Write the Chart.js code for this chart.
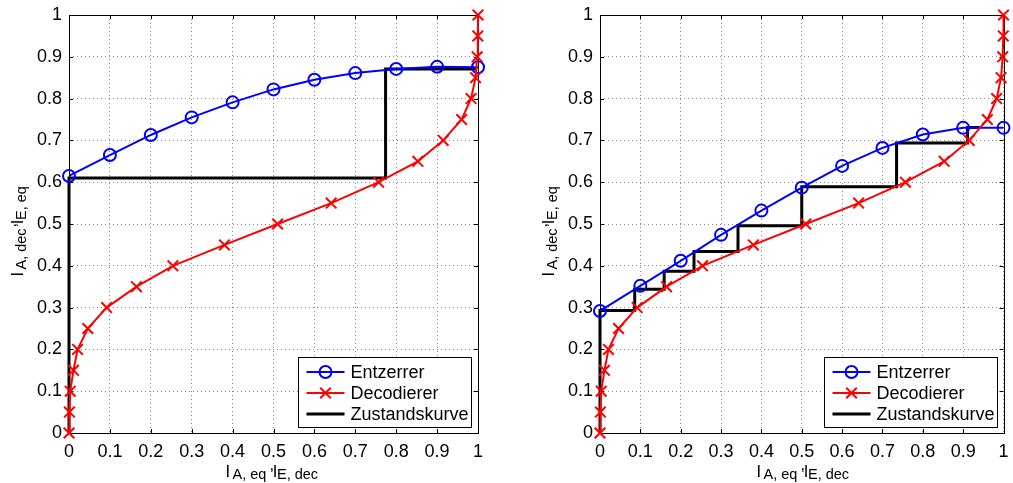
<!DOCTYPE html>
<html>
<head>
<meta charset="utf-8">
<script src="https://cdn.jsdelivr.net/npm/chart.js@4/dist/chart.umd.min.js"></script>
<style>
  body { margin: 0; background: #fff; }
  canvas { position: absolute; top: 0; }
</style>
</head>
<body>
<canvas id="links" width="506" height="483" style="left:0"></canvas>
<canvas id="rechts" width="507" height="483" style="left:506px"></canvas>
<script>
// --- Daten ---
const xWerte = [0, 0.1, 0.2, 0.3, 0.4, 0.5, 0.6, 0.7, 0.8, 0.9, 1];
const tickLabels = ['0', '0.1', '0.2', '0.3', '0.4', '0.5', '0.6', '0.7', '0.8', '0.9', '1'];

// Entzerrer-Kennlinien (links / rechts)
const entzerrerLinks = [0.615, 0.665, 0.713, 0.755, 0.791, 0.822, 0.845, 0.861, 0.871, 0.876, 0.875];
const entzerrerRechts = [0.292, 0.352, 0.412, 0.474, 0.532, 0.587, 0.639, 0.682, 0.714, 0.730, 0.730];

// Decodierer-Kennlinie (gleich in beiden Bildern), y = I_A,dec
const decY = [0, 0.05, 0.1, 0.15, 0.2, 0.25, 0.3, 0.35, 0.4, 0.45, 0.5,
              0.55, 0.6, 0.65, 0.7, 0.75, 0.8, 0.85, 0.9, 0.95, 1];
const decX = [0, 0.001, 0.003, 0.011, 0.021, 0.046, 0.092, 0.165, 0.254, 0.380, 0.510,
              0.641, 0.757, 0.853, 0.915, 0.960, 0.983, 0.994, 0.998, 0.9995, 1];

// Zustandskurven
const stufeLinksX = [0, 0, 0.774, 0.774, 0.998];
const stufeLinksY = [0, 0.61, 0.61, 0.871, 0.871];
const stufeRechtsX = [0, 0, 0.086, 0.086, 0.159, 0.159, 0.233, 0.233, 0.342, 0.342, 0.5, 0.5, 0.735, 0.735, 0.911, 0.911, 0.941];
const stufeRechtsY = [0, 0.293, 0.293, 0.344, 0.344, 0.387, 0.387, 0.434, 0.434, 0.496, 0.496, 0.589, 0.589, 0.694, 0.694, 0.731, 0.731];

const legendNamen = ['Entzerrer', 'Decodierer', 'Zustandskurve'];

const FONT = '"Liberation Sans", Arial, Helvetica, sans-serif';
const BLAU = '#0000ff', ROT = '#ff0000', SCHWARZ = '#000000';

function punkte(xs, ys) {
    return xs.map((x, i) => ({ x: x, y: ys[i] }));
}

// Kreis und x-Marker wie in MATLAB
function markerKreis(ctx, x, y) {
    ctx.beginPath();
    ctx.arc(x, y, 6, 0, Math.PI * 2);
    ctx.stroke();
}
function markerKreuz(ctx, x, y) {
    const d = 5.3;
    ctx.beginPath();
    ctx.moveTo(x - d, y - d); ctx.lineTo(x + d, y + d);
    ctx.moveTo(x - d, y + d); ctx.lineTo(x + d, y - d);
    ctx.stroke();
}

// TeX-artiger Titel: [text, art, versatz]; art 0 = normal, 1 = tief, 2 = Komma
function zeichneTitel(ctx, teile) {
    teile.forEach(([txt, art, dx]) => {
        ctx.font = (art === 1 ? '14.5px ' : '16.5px ') + FONT;
        const dy = art === 1 ? 2.6 : (art === 2 ? -7 : 0);
        ctx.fillText(txt, dx, dy);
    });
}

const matlabPlugin = {
    id: 'matlab',
    beforeDatasetsDraw(chart) {
        const ctx = chart.ctx;
        const a = chart.chartArea;
        const xs = chart.scales.x, ys = chart.scales.y;
        ctx.save();
        ctx.strokeStyle = SCHWARZ;
        ctx.lineWidth = 1;
        // Tick-Striche nach innen, auf allen vier Seiten
        ctx.beginPath();
        xWerte.forEach(v => {
            const px = Math.round(xs.getPixelForValue(v)) + 0.5;
            ctx.moveTo(px, a.bottom); ctx.lineTo(px, a.bottom - 4);
            ctx.moveTo(px, a.top); ctx.lineTo(px, a.top + 4);
            const py = Math.round(ys.getPixelForValue(v)) + 0.5;
            ctx.moveTo(a.left, py); ctx.lineTo(a.left + 4, py);
            ctx.moveTo(a.right, py); ctx.lineTo(a.right - 4, py);
        });
        ctx.stroke();
        ctx.strokeRect(Math.round(a.left) + 0.5, Math.round(a.top) + 0.5,
                       Math.round(a.right - a.left), Math.round(a.bottom - a.top));
        ctx.restore();
    },
    afterDraw(chart) {
        const ctx = chart.ctx;
        const a = chart.chartArea;
        ctx.save();

        // Legende unten rechts
        const bw = 173, bh = 70;
        const bx = Math.round(a.right - 7 - bw) + 0.5, by = Math.round(a.bottom - 6 - bh) + 0.5;
        ctx.fillStyle = '#fff';
        ctx.fillRect(bx, by, bw, bh);
        ctx.strokeStyle = SCHWARZ;
        ctx.lineWidth = 1;
        ctx.strokeRect(bx, by, bw, bh);
        const farben = [BLAU, ROT, SCHWARZ];
        const zeilen = [14.5, 35.5, 56.5];
        zeilen.forEach((dy, i) => {
            const y = by + dy;
            ctx.strokeStyle = farben[i];
            ctx.lineWidth = i === 2 ? 3 : 2;
            ctx.beginPath();
            ctx.moveTo(bx + 8, y); ctx.lineTo(bx + 46, y);
            ctx.stroke();
            ctx.lineWidth = 2;
            if (i === 0) markerKreis(ctx, bx + 27, y);
            if (i === 1) markerKreuz(ctx, bx + 27, y);
            ctx.fillStyle = SCHWARZ;
            ctx.font = '18px ' + FONT;
            ctx.textBaseline = 'middle';
            ctx.textAlign = 'left';
            ctx.fillText(legendNamen[i], bx + 52, y + 1);
        });

        // Achsenbeschriftungen
        ctx.fillStyle = SCHWARZ;
        ctx.textBaseline = 'alphabetic';
        ctx.textAlign = 'left';
        ctx.save();
        ctx.translate(a.left + 156.5, a.bottom + 43.5);
        zeichneTitel(ctx, [['I', 0, 0], ['A, eq', 1, 7], [',', 2, 44], ['I', 0, 47.3], ['E, dec', 1, 51.5]]);
        ctx.restore();

        ctx.save();
        ctx.translate(a.left - 46, (a.top + a.bottom) / 2 + 52.5);
        ctx.rotate(-Math.PI / 2);
        zeichneTitel(ctx, [['I', 0, 0], ['A, dec', 1, 7], [',', 2, 49], ['I', 0, 52.3], ['E, eq', 1, 56.5]]);
        ctx.restore();

        ctx.restore();
    }
};

function achse(breite, hoehe) {
    return {
        type: 'linear',
        min: 0,
        max: 1,
        afterFit: s => {
            if (breite) s.width = breite;
            if (hoehe) s.height = hoehe;
            // Ränder nur über layout.padding steuern
            s.paddingTop = 0; s.paddingBottom = 0;
            s.paddingLeft = 0; s.paddingRight = 0;
        },
        grid: {
            color: '#8c8c8c',
            lineWidth: 1,
            drawTicks: false
        },
        border: { display: false, dash: [1, 3] },
        ticks: {
            stepSize: 0.1,
            padding: breite ? 7 : 8,
            color: SCHWARZ,
            font: { family: FONT, size: 18 },
            callback: v => tickLabels[Math.round(v * 10)]
        }
    };
}

function baueDiagramm(id, entzerrer, stufeX, stufeY, yBreite, rechtsPad) {
    new Chart(document.getElementById(id), {
        type: 'scatter',
        data: {
            datasets: [
                {
                    label: legendNamen[0],
                    data: punkte(xWerte, entzerrer),
                    showLine: true,
                    borderColor: BLAU,
                    borderWidth: 2,
                    pointStyle: 'circle',
                    pointRadius: 6,
                    pointBorderWidth: 2,
                    pointBackgroundColor: 'rgba(0,0,0,0)',
                    pointBorderColor: BLAU,
                    clip: false,
                    order: 1
                },
                {
                    label: legendNamen[1],
                    data: punkte(decX, decY),
                    showLine: true,
                    borderColor: ROT,
                    borderWidth: 2,
                    pointStyle: 'crossRot',
                    pointRadius: 7.5,
                    pointBorderWidth: 2,
                    pointBorderColor: ROT,
                    clip: false,
                    order: 0
                },
                {
                    label: legendNamen[2],
                    data: punkte(stufeX, stufeY),
                    showLine: true,
                    borderColor: SCHWARZ,
                    borderWidth: 3,
                    borderJoinStyle: 'miter',
                    pointRadius: 0,
                    clip: false,
                    order: 2
                }
            ]
        },
        options: {
            responsive: false,
            animation: false,
            devicePixelRatio: 1,
            layout: { padding: { left: 0, right: rechtsPad, top: 15, bottom: 0 } },
            plugins: { legend: { display: false }, tooltip: { enabled: false } },
            scales: {
                x: achse(0, 50),
                y: achse(yBreite, 0)
            }
        },
        plugins: [matlabPlugin]
    });
}

baueDiagramm('links', entzerrerLinks, stufeLinksX, stufeLinksY, 69, 28);
baueDiagramm('rechts', entzerrerRechts, stufeRechtsX, stufeRechtsY, 94, 6);
</script>
</body>
</html>
